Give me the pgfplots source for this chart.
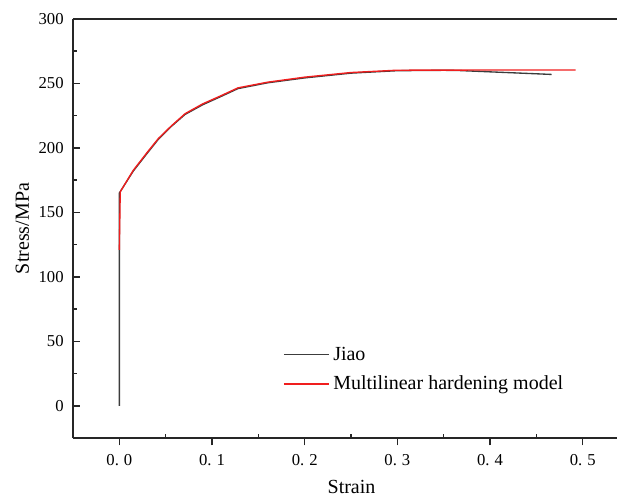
\documentclass[border=0pt]{standalone}
\usepackage{fontspec}
\setmainfont{Liberation Serif}
\usepackage{pgfplots}
\pgfplotsset{compat=1.18}
\usetikzlibrary{calc}
\definecolor{jiaocol}{RGB}{60,60,60}
\definecolor{modelcol}{RGB}{240,30,30}
\begin{document}
\begin{tikzpicture}
\begin{axis}[
  scale only axis,
  width=408pt, height=314.25pt,
  xmin=-0.05, xmax=0.537,
  ymin=-25, ymax=300,
  axis lines=left,
  axis line style={-, line width=1.1pt, black!85},
  xtick={0,0.1,0.2,0.3,0.4,0.5},
  xticklabels={0.\hspace{0.3em}0,0.\hspace{0.3em}1,0.\hspace{0.3em}2,0.\hspace{0.3em}3,0.\hspace{0.3em}4,0.\hspace{0.3em}5},
  ytick={0,50,100,150,200,250,300},
  minor x tick num=1, minor y tick num=1,
  tick align=inside,
  major tick length=5.5pt, minor tick length=3pt,
  every tick/.append style={line width=1.1pt, black!85},
  major x tick style={yshift=-5.5pt},
  /pgf/number format/assume math mode=true,
  tick label style={font=\fontsize{12.5}{14}\selectfont},
  yticklabel style={xshift=-3.5pt},
  xticklabel style={yshift=-8.5pt},
  xlabel={Strain}, ylabel={Stress/MPa},
  label style={font=\fontsize{15}{18}\selectfont, inner sep=0pt},
  xlabel style={at={(axis description cs:0.512,-0.116)}, anchor=center},
  ylabel style={at={(axis description cs:-0.093,0.5)}, anchor=center, rotate=0},
  legend style={draw=none, fill=none, font=\fontsize{15}{18}\selectfont,
    at={(axis description cs:0.386,0.2255)}, anchor=north west,
    inner sep=0pt, row sep=5.25pt,
    nodes={inner sep=2.5pt}},
  legend cell align=left,
  legend image code/.code={\draw[#1] (0pt,0pt) -- (34pt,0pt);},
  clip=false,
]
\addplot[jiaocol, line width=1pt] coordinates {
  (0,0) (0,121) (0,165) (0.015,182) (0.030,195.8) (0.042,206.6)
  (0.055,216) (0.071,226) (0.090,233.5) (0.110,240) (0.128,246)
  (0.160,250.5) (0.200,254.3) (0.250,258) (0.300,259.9)
  (0.350,260.2) (0.364,260.1) (0.4665,257)
};
\addlegendentry{Jiao}
\addplot[modelcol, line width=1pt] coordinates {
  (0,121) (0.001,166) (0.015,182.6) (0.030,196.5) (0.042,207.2)
  (0.056,217) (0.071,226.6) (0.090,234.2) (0.110,240.6) (0.128,246.6)
  (0.160,251) (0.200,254.9) (0.250,258.5) (0.300,260.3) (0.4923,260.5)
};
\addlegendentry{Multilinear hardening model}
\draw[line width=1.1pt, black!85] (rel axis cs:0,1) -- (rel axis cs:1,1);
\coordinate (sw) at (rel axis cs:0,0);
\coordinate (ne) at (rel axis cs:1,1);
\end{axis}
\pgfresetboundingbox
\path ($(sw)+(-54.75pt,-44.25pt)$) rectangle ($(ne)+(0,14.25pt)$);
\end{tikzpicture}
\end{document}
